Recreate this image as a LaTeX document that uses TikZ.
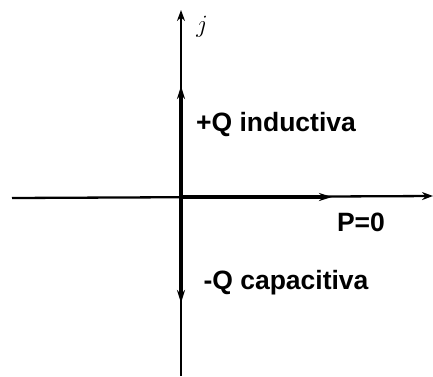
\documentclass[tikz,border=0pt]{standalone}
\usepackage{fontspec}
\setmainfont{Liberation Sans}
\usetikzlibrary{arrows.meta}

\begin{document}
\begin{tikzpicture}[x=1pt, y=-1pt,
    axis/.style={line width=2.3pt, -{Stealth[length=11pt,width=8pt]}},
    vec/.style={line width=3.2pt, -{Stealth[length=13pt,width=8pt]}},
    lbl/.style={font=\bfseries\fontsize{26.5}{30}\selectfont, inner sep=0pt}]
        \useasboundingbox (0,0) rectangle (433,376);
        \coordinate (o)  at (181,197);
        \coordinate (xl) at (12,198);
        \coordinate (xr) at (433,196);
        \coordinate (yb) at (181,376);
        \coordinate (yt) at (181,10);
        \coordinate (p)  at (332,197);
        \coordinate (qi) at (181,86);
        \coordinate (qc) at (181,303);

        % ejes
        \draw[axis] (xl) -- (xr);
        \draw[axis] (yb) -- (yt);

        % vectores
        \draw[vec] (o) -- (p);
        \draw[vec] (o) -- (qi);
        \draw[vec] (o) -- (qc);

        \node (j)   at (202,27)  {\fontsize{26}{28}\selectfont$j$};
        \node[lbl] (ind) at (276,124) {+Q inductiva};
        \node[lbl] (pp)  at (361,222) {P=0};
        \node[lbl] (cap) at (286,283) {-Q capacitiva};
    \end{tikzpicture}
\end{document}
